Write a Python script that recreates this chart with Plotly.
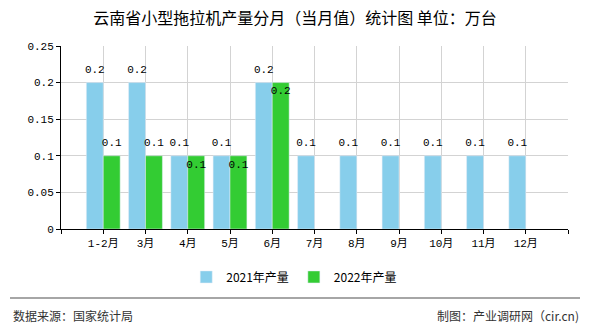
import plotly.graph_objects as go

categories = ["1-2月", "3月", "4月", "5月", "6月", "7月", "8月", "9月", "10月", "11月", "12月"]
prod_2021 = [0.2, 0.2, 0.1, 0.1, 0.2, 0.1, 0.1, 0.1, 0.1, 0.1, 0.1]
prod_2022 = [0.1, 0.1, 0.1, 0.1, 0.2]
y_ticks = [0, 0.05, 0.1, 0.15, 0.2, 0.25]
name_2021 = "2021年产量"
name_2022 = "2022年产量"
title_text = "云南省小型拖拉机产量分月（当月值）统计图 单位：万台"
source_text = "数据来源：国家统计局"
maker_text = "制图：产业调研网（cir.cn)"

MONO = "Liberation Mono, Noto Sans CJK SC, sans-serif"
CJK = "Noto Sans CJK SC, sans-serif"
BAR_W = 0.4

xs = list(range(len(categories)))
xs22 = xs[:len(prod_2022)]

def fmt(v):
    return f"{v:g}"

fig = go.Figure()
fig.add_trace(go.Bar(
    x=xs, y=prod_2021, name=name_2021, marker_color="#87CEEB",
    width=BAR_W, offset=-BAR_W, hoverinfo="y",
))
fig.add_trace(go.Bar(
    x=xs22, y=prod_2022, name=name_2022, marker_color="#33CC33",
    width=BAR_W, offset=0, hoverinfo="y",
))

# value labels (2021 above bars; 2022 above, or just inside the top when equal to 2021)
lab_font = dict(family=MONO, size=11, color="#000")
fig.add_trace(go.Scatter(
    x=[x - BAR_W / 2 for x in xs], y=prod_2021, mode="markers+text",
    text=[fmt(v) for v in prod_2021], textposition="top center",
    marker=dict(size=10, opacity=0), textfont=lab_font,
    showlegend=False, hoverinfo="skip", cliponaxis=False,
))
inside22 = [prod_2022[i] == prod_2021[i] for i in range(len(prod_2022))]
fig.add_trace(go.Scatter(
    x=[x + BAR_W / 2 for x in xs22], y=prod_2022, mode="markers+text",
    text=[fmt(v) for v in prod_2022],
    textposition=["bottom center" if f else "top center" for f in inside22],
    marker=dict(size=[4 if f else 10 for f in inside22], opacity=0), textfont=lab_font,
    showlegend=False, hoverinfo="skip", cliponaxis=False,
))

tickvals = [-1] + xs + [len(categories)]
ticktext = [""] + categories + [""]

fig.update_layout(
    width=590, height=330,
    margin=dict(l=61, r=22, t=46, b=101),
    paper_bgcolor="white", plot_bgcolor="white",
    barmode="overlay",
    showlegend=True,
    title=dict(text=title_text, x=0.5, xanchor="center", y=1 - 18 / 330, yanchor="middle",
               font=dict(family=CJK, size=16, color="#000")),
    legend=dict(orientation="h", x=0.46, xanchor="center", y=-0.262, yanchor="middle",
                font=dict(family=CJK, size=12, color="#000"), itemwidth=30,
                traceorder="normal"),
    xaxis=dict(range=[-1, len(categories)], tickmode="array", tickvals=tickvals, ticktext=ticktext,
               showgrid=True, gridcolor="#d3d3d3", gridwidth=1,
               showline=True, linecolor="#000", linewidth=1,
               ticks="outside", ticklen=4, tickcolor="#000",
               tickfont=dict(family=MONO, size=11, color="#000"), zeroline=False),
    yaxis=dict(range=[0, 0.25], tickmode="array", tickvals=y_ticks,
               ticktext=[fmt(v) for v in y_ticks],
               showgrid=True, gridcolor="#d3d3d3", gridwidth=1,
               showline=True, linecolor="#000", linewidth=1,
               ticks="outside", ticklen=4, tickcolor="#000",
               tickfont=dict(family=MONO, size=11, color="#000"), zeroline=False),
    shapes=[dict(type="line", xref="paper", yref="paper", x0=-0.1006, x1=1.0237,
                 y0=-0.377, y1=-0.377, line=dict(color="#888888", width=1.5))],
    annotations=[
        dict(text=source_text, xref="paper", yref="paper", x=-0.0986, y=-0.475,
             xanchor="left", yanchor="middle", showarrow=False,
             font=dict(family=CJK, size=12, color="#333")),
        dict(text=maker_text, xref="paper", yref="paper", x=1.0256, y=-0.475,
             xanchor="right", yanchor="middle", showarrow=False,
             font=dict(family=CJK, size=12, color="#333")),
    ],
)

fig.write_html("out.html")
